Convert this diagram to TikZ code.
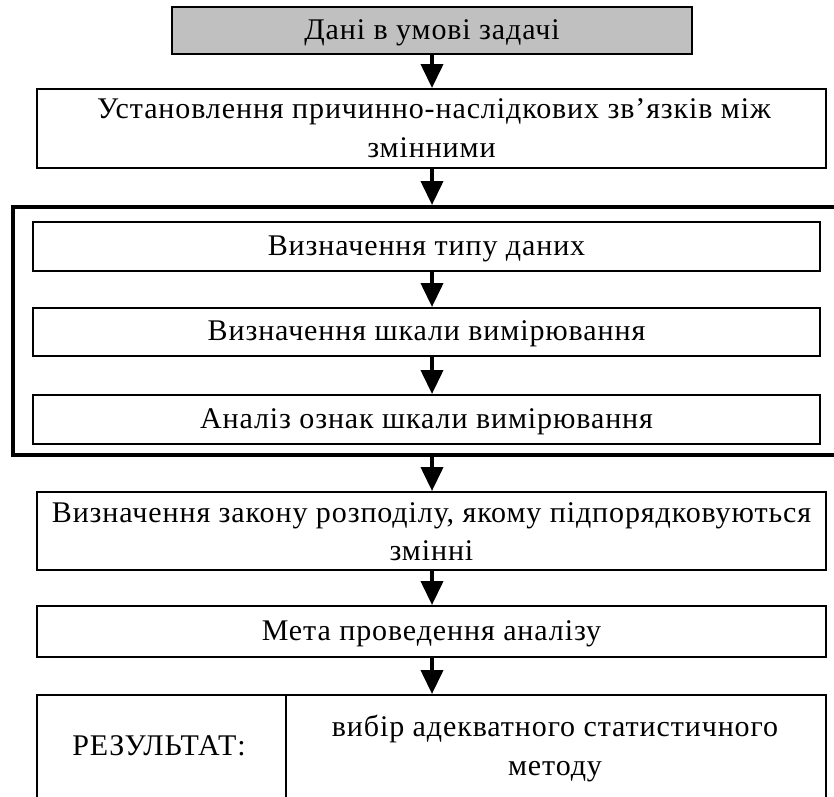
\documentclass[tikz,border=0pt]{standalone}
\usepackage{fontspec}
\setmainfont{Liberation Serif}[LetterSpace=3]
\usetikzlibrary{arrows.meta}
\definecolor{boxgray}{RGB}{192,192,192}
\newcommand\flowfont{\fontsize{30pt}{39pt}\selectfont}
\begin{document}
\begin{tikzpicture}[x=1pt,y=-1pt,
  box/.style={draw=black, line width=2pt, rectangle, inner sep=0pt,
    font=\flowfont, text height=17pt, text depth=0pt},
  frame/.style={draw=black, line width=4pt, rectangle, inner sep=0pt},
  txt/.style={font=\flowfont, inner sep=0pt, anchor=base},
  flow/.style={line width=4pt, -{Triangle[length=24pt,width=22pt]}}]
\useasboundingbox (0,0) rectangle (834,796);
\clip (0,0) rectangle (834,796);
\fill[white] (0,0) rectangle (834,796);
\coordinate (axis) at (432,0);

% boxes of the chain
\node[box, fill=boxgray, minimum width=520pt, minimum height=47pt] (given) at (432,30.5) {Дані в умові задачі};
\node[box, minimum width=789pt, minimum height=79pt] (links) at (431.5,128.5) {};
\node[txt] (linksA) at (434,118) {Установлення причинно-наслідкових зв’язків між};
\node[txt] (linksB) at (431.5,157) {змінними};

% framed group of three steps
\node[frame, minimum width=828pt, minimum height=248pt] (group) at (427,331) {};
\node[box, minimum width=787pt, minimum height=49pt] (dtype) at (426.5,246.5) {Визначення типу даних};
\node[box, minimum width=787pt, minimum height=48pt] (scale) at (426.5,332) {Визначення шкали вимірювання};
\node[box, minimum width=787pt, minimum height=49pt] (feat) at (426.5,419.5) {Аналіз ознак шкали вимірювання};

\node[box, minimum width=789pt, minimum height=78pt] (law) at (431.5,531) {};
\node[txt] (lawA) at (431.5,522) {Визначення закону розподілу, якому підпорядковуються};
\node[txt] (lawB) at (431.5,560) {змінні};

\node[box, minimum width=789pt, minimum height=51pt] (goal) at (431.5,631.5) {Мета проведення аналізу};

% result row, split into two cells
\node[box, minimum width=249pt, minimum height=125pt] (resL) at (161.5,757.5) {};
\node[box, minimum width=540pt, minimum height=125pt] (resR) at (556,757.5) {};
\node[txt] (resLabel) at (159,755) {РЕЗУЛЬТАТ:};
\node[txt] (resA) at (555,736) {вибір адекватного статистичного};
\node[txt] (resB) at (555,775) {методу};

% connectors
\draw[flow] (given.south -| axis) -- (links.north -| axis);
\draw[flow] (links.south -| axis) -- (group.north -| axis);
\draw[flow] (dtype.south -| axis) -- (scale.north -| axis);
\draw[flow] (scale.south -| axis) -- (feat.north -| axis);
\draw[flow] (group.south -| axis) -- (law.north -| axis);
\draw[flow] (law.south -| axis) -- (goal.north -| axis);
\draw[flow] (goal.south -| axis) -- (resR.north -| axis);
\end{tikzpicture}
\end{document}
